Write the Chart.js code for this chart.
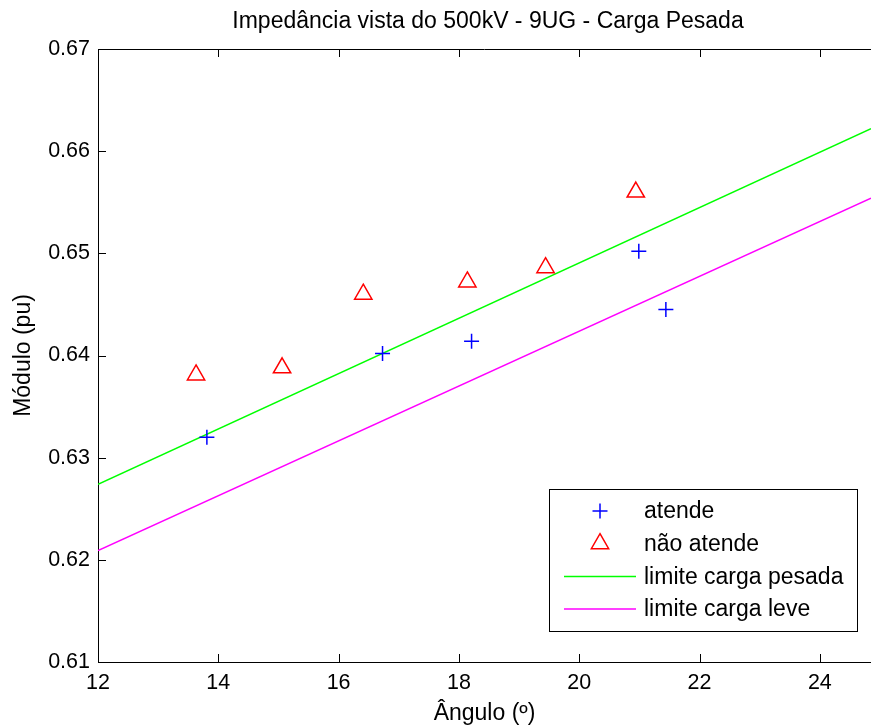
<!DOCTYPE html>
<html>
<head>
<meta charset="utf-8">
<script src="https://cdn.jsdelivr.net/npm/chart.js@4"></script>
<style>
  html, body { margin: 0; padding: 0; background: #fff; }
  #wrap { width: 871px; height: 727px; }
</style>
</head>
<body>
<div id="wrap"><canvas id="chart" width="871" height="727"></canvas></div>
<script>
const xTicks = [12, 14, 16, 18, 20, 22, 24];
const yTicks = [0.61, 0.62, 0.63, 0.64, 0.65, 0.66, 0.67];

const atendeX = [13.81, 16.73, 18.21, 20.99, 21.44];
const atendeY = [0.6320, 0.6402, 0.6414, 0.6502, 0.6445];

const naoAtendeX = [13.63, 15.06, 16.41, 18.14, 19.44, 20.94];
const naoAtendeY = [0.6381, 0.6388, 0.6460, 0.6472, 0.6486, 0.6560];

const limiteX = [12, 24.85];
const pesadaY = [0.6274, 0.6622];
const leveY = [0.6209, 0.6554];

const TITLE = "Impedância vista do 500kV - 9UG - Carga Pesada";

const toPoints = (xs, ys) => xs.map((x, i) => ({ x, y: ys[i] }));

const FONT = "'Liberation Sans', Arial, Helvetica, sans-serif";

// MATLAB style: ticks pointing in, box line on top, legend inside the axes,
// title centred over the (cropped) axes
const matlabAxes = {
  id: "matlabAxes",
  afterDraw(chart) {
    const { ctx, chartArea: a, scales } = chart;
    ctx.save();
    ctx.strokeStyle = "#000";
    ctx.lineWidth = 1;
    ctx.beginPath();
    ctx.moveTo(a.left, a.top + 0.5);
    ctx.lineTo(a.right, a.top + 0.5);
    scales.x.ticks.forEach((t) => {
      const px = Math.round(scales.x.getPixelForValue(t.value)) + 0.5;
      ctx.moveTo(px, a.bottom);
      ctx.lineTo(px, a.bottom - 8);
      ctx.moveTo(px, a.top);
      ctx.lineTo(px, a.top + 8);
    });
    scales.y.ticks.forEach((t) => {
      const py = Math.round(scales.y.getPixelForValue(t.value)) + 0.5;
      ctx.moveTo(a.left, py);
      ctx.lineTo(a.left + 8, py);
    });
    ctx.stroke();

    ctx.fillStyle = "#000";
    ctx.font = "23px " + FONT;
    ctx.textAlign = "center";
    ctx.textBaseline = "middle";
    ctx.fillText(TITLE, 488, 22);

    // legend box
    const box = { left: 549, top: 489, width: 308, height: 142 };
    ctx.fillStyle = "#fff";
    ctx.fillRect(box.left, box.top, box.width, box.height);
    ctx.strokeRect(box.left + 0.5, box.top + 0.5, box.width, box.height);
    ctx.textAlign = "left";
    chart.data.datasets.forEach((ds, i) => {
      const y = box.top + 22 + i * 32.7;
      ctx.strokeStyle = ds.borderColor;
      ctx.lineWidth = ds.borderWidth;
      if (ds.showLine) {
        ctx.beginPath();
        ctx.moveTo(box.left + 15, y);
        ctx.lineTo(box.left + 87, y);
        ctx.stroke();
      } else {
        ctx.fillStyle = ds.backgroundColor;
        Chart.helpers.drawPoint(ctx, {
          pointStyle: ds.pointStyle,
          radius: ds.pointRadius,
          borderWidth: ds.borderWidth,
          rotation: 0,
        }, box.left + 51, y);
      }
      ctx.fillStyle = "#000";
      ctx.fillText(ds.label, box.left + 95, y + 1);
    });
    ctx.restore();
  },
};

new Chart(document.getElementById("chart"), {
  type: "scatter",
  data: {
    datasets: [
      {
        label: "atende",
        data: toPoints(atendeX, atendeY),
        pointStyle: "cross",
        pointRadius: 7.5,
        borderColor: "#0000ff",
        backgroundColor: "#0000ff",
        borderWidth: 1.5,
      },
      {
        label: "não atende",
        data: toPoints(naoAtendeX, naoAtendeY),
        pointStyle: "triangle",
        pointRadius: 10,
        borderColor: "#ff0000",
        backgroundColor: "rgba(0,0,0,0)",
        borderWidth: 1.5,
      },
      {
        label: "limite carga pesada",
        data: toPoints(limiteX, pesadaY),
        showLine: true,
        pointRadius: 0,
        borderColor: "#00ff00",
        borderWidth: 1.5,
      },
      {
        label: "limite carga leve",
        data: toPoints(limiteX, leveY),
        showLine: true,
        pointRadius: 0,
        borderColor: "#ff00ff",
        borderWidth: 1.5,
      },
    ],
  },
  options: {
    responsive: false,
    animation: false,
    layout: { autoPadding: false, padding: { left: 0, right: 0, top: 49, bottom: 0 } },
    plugins: {
      legend: { display: false },
      tooltip: { enabled: false },
      title: { display: false },
    },
    scales: {
      x: {
        type: "linear",
        min: 12,
        max: 24.85,
        afterBuildTicks: (scale) => {
          scale.ticks = xTicks.map((v) => ({ value: v }));
        },
        afterFit: (scale) => {
          scale.height = 65;
          scale.paddingRight = 0;
          scale.paddingLeft = 0;
        },
        grid: { display: false, drawTicks: false },
        border: { display: true, color: "#000", width: 1 },
        ticks: {
          color: "#000",
          padding: 8,
          maxRotation: 0,
          font: { family: FONT, size: 21.5 },
          callback: (v) => String(v),
        },
        title: {
          display: true,
          text: "Ângulo (º)",
          color: "#000",
          font: { family: FONT, size: 23 },
          padding: { top: 0, bottom: 0 },
        },
      },
      y: {
        type: "linear",
        min: 0.61,
        max: 0.67,
        afterBuildTicks: (scale) => {
          scale.ticks = yTicks.map((v) => ({ value: v }));
        },
        afterFit: (scale) => {
          scale.width = 98;
          scale.paddingTop = 0;
          scale.paddingBottom = 0;
        },
        grid: { display: false, drawTicks: false },
        border: { display: true, color: "#000", width: 1 },
        ticks: {
          color: "#000",
          padding: 8,
          font: { family: FONT, size: 21.5 },
          callback: (v) => Number(v).toFixed(2),
        },
        title: {
          display: true,
          text: "Módulo (pu)",
          color: "#000",
          font: { family: FONT, size: 23 },
          padding: { top: 10, bottom: 0 },
        },
      },
    },
  },
  plugins: [matlabAxes],
});
</script>
</body>
</html>
